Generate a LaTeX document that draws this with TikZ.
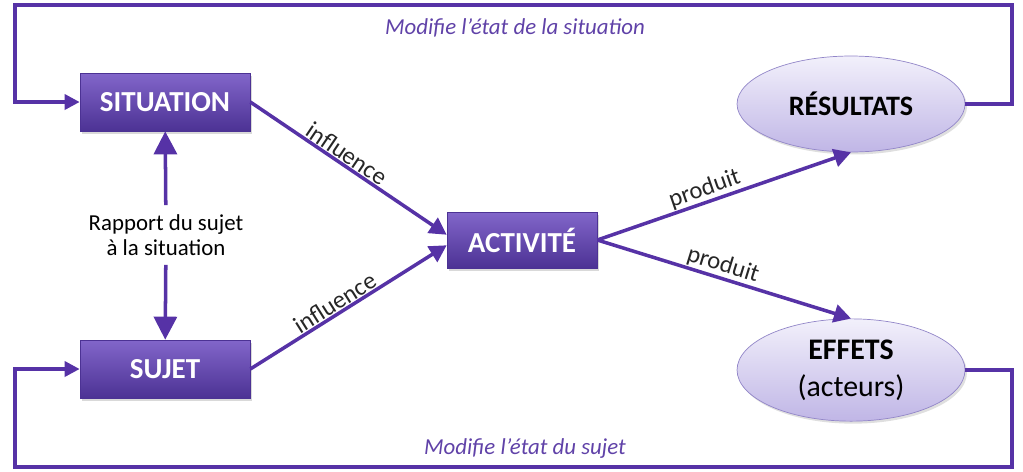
\documentclass[tikz,border=0pt]{standalone}
\usepackage{fontspec}
\setmainfont{Carlito}
\usetikzlibrary{arrows.meta,positioning,shapes.geometric,shadows}

\definecolor{lnpurple}{RGB}{86,50,166}
\definecolor{boxtop}{RGB}{130,102,202}
\definecolor{boxbot}{RGB}{76,50,148}
\definecolor{elltop}{RGB}{242,240,251}
\definecolor{ellbot}{RGB}{192,182,230}
\definecolor{elldraw}{RGB}{146,134,200}
\definecolor{txtpurple}{RGB}{96,66,168}

\begin{document}
\begin{tikzpicture}[x=0.02cm, y=-0.02cm,
  box/.style={rectangle, top color=boxtop, bottom color=boxbot, draw=boxbot,
              text=white, font=\fontsize{16.5}{18}\selectfont\bfseries,
              minimum width=3.4cm, minimum height=1.16cm,
              drop shadow={opacity=0.3, shadow xshift=0.04cm, shadow yshift=-0.05cm}},
  ell/.style={ellipse, top color=elltop, bottom color=ellbot, draw=elldraw,
              text=black, font=\fontsize{16}{18}\selectfont\bfseries,
              minimum width=4.56cm, minimum height=1.92cm, align=center,
              drop shadow={opacity=0.25, shadow xshift=0.04cm, shadow yshift=-0.05cm}},
  arr/.style={-{Triangle[length=0.34cm,width=0.36cm]}, line width=2pt, draw=lnpurple},
  bigarr/.style={arr, -{Triangle[length=0.46cm,width=0.46cm]}},
  backarr/.style={arr, -{Triangle[length=0.3cm,width=0.3cm]}},
  lbl/.style={font=\fontsize{14}{16}\selectfont, text=black!85, sloped, above, inner sep=0.5pt},
  note/.style={font=\fontsize{13}{15}\selectfont\itshape, text=txtpurple}]
\useasboundingbox (0,0) rectangle (1023,471);
% noeuds
\node[box] (sit) at (165,102) {SITUATION};
\node[box] (suj) at (165,369) {SUJET};
\node[box, minimum width=3.0cm, minimum height=1.12cm] (act) at (522,240) {ACTIVITÉ};
\node[ell] (res) at (851,104) {RÉSULTATS};
\node[ell, font=\fontsize{17}{21}\selectfont\bfseries] (eff) at (851,370)
  {EFFETS\\{\mdseries (acteurs)}};
\node[font=\fontsize{13}{14.5}\selectfont, align=center, inner sep=5pt] (rap) at (166,235)
  {Rapport du sujet\\à la situation};
% coins des boucles
\coordinate (loopNE) at (1012,5);
\coordinate (loopNW) at (15,5);
\coordinate (loopSE) at (1012,467);
\coordinate (loopSW) at (15,467);
% liens
\draw[bigarr] (rap) -- (sit);
\draw[bigarr] (rap) -- (suj);
\draw[arr] (sit.east) -- node[lbl, pos=0.46]{influence} (act.176);
\draw[arr] (suj.east) -- node[lbl, pos=0.46]{influence} (act.184);
\draw[arr] (act.east) -- node[lbl, pos=0.44]{produit} (res.south);
\draw[arr] (act.east) -- node[lbl, pos=0.48]{produit} (eff.north);
\draw[backarr] (res.east) -| (loopNE) -- (loopNW) |- (sit.west);
\draw[backarr] (eff.east) -| (loopSE) -- (loopSW) |- (suj.west);
\node[note] (modsit) at (515,28) {Modifie l’état de la situation};
\node[note] (modsuj) at (525,449) {Modifie l’état du sujet};
\end{tikzpicture}
\end{document}
